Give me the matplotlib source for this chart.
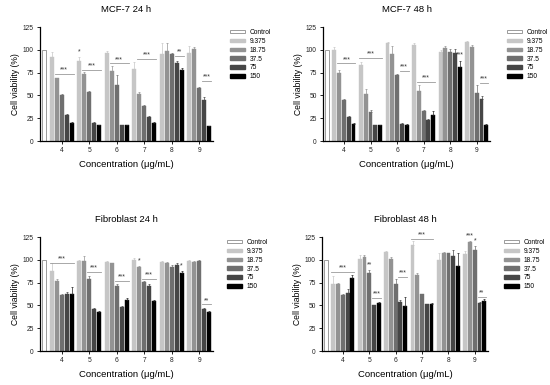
import numpy as np
import matplotlib
matplotlib.use("Agg")
import matplotlib.pyplot as plt
from matplotlib.patches import Patch

plt.rcParams['font.family'] = ['Liberation Sans', 'DejaVu Sans']

# ---------------- data ----------------
groups = ['4', '5', '6', '7', '8', '9']
doses = ['9.375', '18.75', '37.5', '75', '150']
control_value = 100

titles = ['MCF-7 24 h', 'MCF-7 48 h', 'Fibroblast 24 h', 'Fibroblast 48 h']

mcf7_24_mean = [[92, 69, 50, 29, 20],
                [88, 74, 54, 20, 17],
                [97, 77, 61, 17, 17],
                [79, 52, 38, 26, 20],
                [95, 99, 95, 86, 78],
                [96, 101, 58, 45, 16]]
mcf7_24_err = [[6, 0.5, 1, 0.5, 0.5],
               [4, 2, 1, 1, 0.5],
               [2, 5, 11, 1, 0.5],
               [8, 2, 2, 1, 1],
               [12, 8, 2, 2, 2],
               [8, 2, 1, 3, 0.5]]

mcf7_48_mean = [[100, 75, 45, 26, 19],
                [83, 52, 32, 17, 17],
                [108, 95, 72, 19, 18],
                [105, 55, 33, 23, 29],
                [98, 102, 98, 97, 81],
                [109, 103, 53, 46, 18]]
mcf7_48_err = [[3, 3, 1, 1, 1],
               [4, 5, 2, 0.5, 0.5],
               [1, 9, 1, 1, 1],
               [2, 6, 1, 1, 4],
               [2, 2, 3, 4, 7],
               [1, 2, 8, 3, 0.5]]

fib_24_mean = [[88, 77, 61, 63, 62],
               [99, 99, 79, 46, 43],
               [98, 96, 71, 48, 56],
               [100, 92, 76, 71, 55],
               [98, 97, 92, 94, 86],
               [99, 98, 99, 46, 43]]
fib_24_err = [[8, 2, 1, 2, 8],
              [1, 5, 3, 1, 0.5],
              [1, 1, 2, 1, 2],
              [2, 1, 1, 2, 1],
              [1, 1, 2, 2, 2],
              [0.5, 1, 0.5, 1, 1]]

fib_48_mean = [[74, 73, 61, 64, 80],
               [101, 103, 85, 50, 53],
               [109, 101, 74, 54, 49],
               [116, 83, 62, 51, 51],
               [100, 108, 107, 104, 93],
               [106, 119, 111, 53, 55]]
fib_48_err = [[8, 2, 1, 4, 3],
              [4, 2, 4, 0.5, 0.5],
              [0.5, 2, 5, 2, 10],
              [5, 3, 1, 1, 2],
              [7, 1, 1, 7, 15],
              [4, 2, 4, 0.5, 2]]

# significance: (group index, first dose, last dose, y, label)
mcf7_24_sig = [(0, 1, 4, 74, '***'), (1, 1, 4, 78, '***'), (2, 1, 4, 85, '***'),
               (3, 1, 4, 90, '***'), (4, 3, 4, 93, '**'), (5, 3, 4, 66, '***'),
               (1, 0, 0, 93, '*')]
mcf7_48_sig = [(0, 1, 4, 85, '***'), (1, 0, 4, 91, '***'), (2, 3, 4, 77, '***'),
               (3, 1, 4, 65, '***'), (4, 4, 4, 90, '***'), (5, 3, 4, 64, '***')]
fib_24_sig = [(0, 0, 4, 97, '***'), (1, 2, 4, 87, '***'), (2, 2, 4, 77, '***'),
              (3, 2, 4, 79, '***'), (3, 1, 1, 94, '*'), (4, 4, 4, 89, '*'),
              (5, 3, 4, 51, '**')]
fib_48_sig = [(0, 0, 4, 87, '***'), (1, 2, 2, 90, '**'), (1, 3, 4, 58, '***'),
              (2, 3, 4, 81, '***'), (3, 0, 4, 123, '***'), (5, 1, 1, 122, '***'),
              (5, 2, 2, 116, '*'), (5, 3, 4, 59, '**')]

panels = [(mcf7_24_mean, mcf7_24_err, mcf7_24_sig),
          (mcf7_48_mean, mcf7_48_err, mcf7_48_sig),
          (fib_24_mean, fib_24_err, fib_24_sig),
          (fib_48_mean, fib_48_err, fib_48_sig)]

# ---------------- style / layout ----------------
W, H = 550, 385
fig = plt.figure(figsize=(W / 100, H / 100), dpi=100)

# axes boxes in pixels: left, right, top, bottom
boxes = [(40, 213, 27, 141), (323, 490, 27, 141),
         (40, 213, 237, 351), (322, 488, 237, 351)]
legend_anchor = [(230, 29), (507, 29), (227, 239), (504, 239)]

colors = ['#c6c6c6', '#939393', '#6f6f6f', '#464646', '#000000']
ctrl_face, ctrl_edge = '#ffffff', '#8c8c8c'
step = 0.18
width = 0.145
ctrl_x = 0.35
xg = np.arange(1, len(groups) + 1)

for p, ((mean, err, sig), box, title, la) in enumerate(zip(panels, boxes, titles, legend_anchor)):
    l, r, t, b = box
    ax = fig.add_axes([l / W, 1 - b / H, (r - l) / W, (b - t) / H])
    mean = np.array(mean, dtype=float)
    err = np.array(err, dtype=float)

    ax.bar(ctrl_x, control_value, width, color=ctrl_face, edgecolor=ctrl_edge,
           linewidth=0.6, zorder=2)
    for d in range(len(doses)):
        xs = xg + (d - 2) * step
        ax.bar(xs, mean[:, d], width, color=colors[d], edgecolor=colors[d],
               linewidth=0.3, zorder=2)
        ax.errorbar(xs, mean[:, d], yerr=[np.zeros(len(groups)), err[:, d]],
                    fmt='none', ecolor=colors[d] if d < 4 else '#222222',
                    elinewidth=0.5, capsize=1.0, capthick=0.5, zorder=3)

    for g, d0, d1, y, lab in sig:
        x0 = xg[g] + (d0 - 2) * step
        x1 = xg[g] + (d1 - 2) * step
        if d1 > d0:
            ax.plot([x0 - width / 2, x1 + width / 2], [y, y], color='#9a9a9a',
                    lw=0.6, zorder=4)
        ax.text((x0 + x1) / 2, y + 0.5, lab, ha='center', va='bottom',
                fontsize=5, color='#333333', zorder=4)

    ax.set_xlim(0.21, 6.5)
    ax.set_ylim(0, 125)
    ax.set_yticks([0, 25, 50, 75, 100, 125])
    ax.set_xticks(xg)
    ax.set_xticklabels(groups)
    ax.tick_params(axis='both', labelsize=4.8, length=2.5, width=0.7, pad=2,
                   colors='#222222')
    for s in ['top', 'right']:
        ax.spines[s].set_visible(False)
    for s in ['left', 'bottom']:
        ax.spines[s].set_linewidth(0.9)
    ax.set_title(title, fontsize=6.8, pad=11)
    ax.set_xlabel('Concentration (\u03bcg/mL)', fontsize=6.8, labelpad=4)
    ax.set_ylabel('Cell viability (%)', fontsize=6.2, labelpad=2)

    handles = [Patch(facecolor=ctrl_face, edgecolor=ctrl_edge, linewidth=0.6)]
    handles += [Patch(facecolor=c, edgecolor=c) for c in colors]
    ax.legend(handles, ['Control'] + doses, loc='upper left',
              bbox_to_anchor=(la[0] / W, 1 - la[1] / H),
              bbox_transform=fig.transFigure, frameon=False, fontsize=4.8,
              handlelength=2.2, handleheight=0.45, handletextpad=0.7,
              labelspacing=0.28, borderaxespad=0, borderpad=0)

fig.savefig('out.png', dpi=100)
